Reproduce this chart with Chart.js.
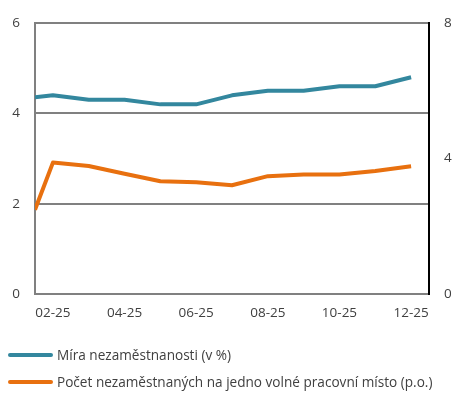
<!DOCTYPE html>
<html>
<head>
<meta charset="utf-8">
<script src="https://cdn.jsdelivr.net/npm/chart.js@4/dist/chart.umd.min.js"></script>
<style>
  html, body { margin: 0; padding: 0; background: #fff; }
  #wrap { position: relative; width: 475px; height: 395px; }
  #legend { position: absolute; left: 8px; top: 341px; font-family: "Open Sans", sans-serif; font-size: 13.6px; color: #404040; }
  .item { display: flex; align-items: center; height: 27px; white-space: nowrap; }
  .sw { width: 45px; height: 4px; border-radius: 2px; margin-right: 4px; }
</style>
</head>
<body>
<div id="wrap">
  <canvas id="c" width="475" height="395"></canvas>
  <div id="legend"></div>
</div>
<script>
const months = [1.5, 2, 3, 4, 5, 6, 7, 8, 9, 10, 11, 12];
const unemploymentRate = [4.36, 4.4, 4.3, 4.3, 4.2, 4.2, 4.4, 4.5, 4.5, 4.6, 4.6, 4.8];
const perVacancy = [2.49, 3.88, 3.78, 3.55, 3.33, 3.3, 3.21, 3.48, 3.53, 3.53, 3.63, 3.77];
const seriesNames = ["Míra nezaměstnanosti (v %)", "Počet nezaměstnaných na jedno volné pracovní místo (p.o.)"];
const seriesColors = ["#33879e", "#e8700f"];
const xTickMonths = [2, 4, 6, 8, 10, 12];
const yearSuffix = "25";

const font = { family: "Open Sans", size: 13.5 };
const textColor = "#404040";

const ds = [unemploymentRate, perVacancy].map((vals, i) => ({
  label: seriesNames[i],
  data: months.map((m, j) => ({ x: m, y: vals[j] })),
  borderColor: seriesColors[i],
  backgroundColor: seriesColors[i],
  borderWidth: 4,
  borderJoinStyle: "round",
  pointRadius: 0,
  tension: 0,
  yAxisID: i === 0 ? "y" : "y1"
}));

new Chart(document.getElementById("c"), {
  type: "line",
  data: { datasets: ds },
  options: {
    responsive: false,
    animation: false,
    layout: { padding: { top: 23, left: 0, right: 0, bottom: 0 } },
    plugins: { legend: { display: false }, tooltip: { enabled: false } },
    scales: {
      x: {
        type: "linear",
        min: 1.5, max: 12.5,
        afterBuildTicks: (s) => { s.ticks = xTickMonths.map(v => ({ value: v })); },
        afterFit: (s) => { s.height = 101; },
        ticks: {
          font, color: textColor, padding: 11, maxRotation: 0, autoSkip: false,
          callback: (v) => String(v).padStart(2, "0") + "-" + yearSuffix
        },
        grid: { display: false, drawTicks: false },
        border: { color: "#808080", width: 2 }
      },
      y: {
        position: "left",
        min: 0, max: 6,
        afterFit: (s) => { s.width = 35; },
        ticks: { stepSize: 2, font, color: textColor, padding: 15 },
        grid: { color: "#808080", lineWidth: 2, drawTicks: false },
        border: { color: "#808080", width: 2 }
      },
      y1: {
        position: "right",
        min: 0, max: 8,
        afterFit: (s) => { s.width = 46; },
        ticks: { stepSize: 4, font, color: textColor, padding: 15 },
        grid: { display: false, drawTicks: false },
        border: { color: "#000000", width: 2 }
      }
    }
  }
});

const lg = document.getElementById("legend");
seriesNames.forEach((n, i) => {
  const d = document.createElement("div");
  d.className = "item";
  const sw = document.createElement("span");
  sw.className = "sw";
  sw.style.background = seriesColors[i];
  const t = document.createElement("span");
  t.textContent = n;
  d.appendChild(sw); d.appendChild(t);
  lg.appendChild(d);
});
</script>
</body>
</html>
